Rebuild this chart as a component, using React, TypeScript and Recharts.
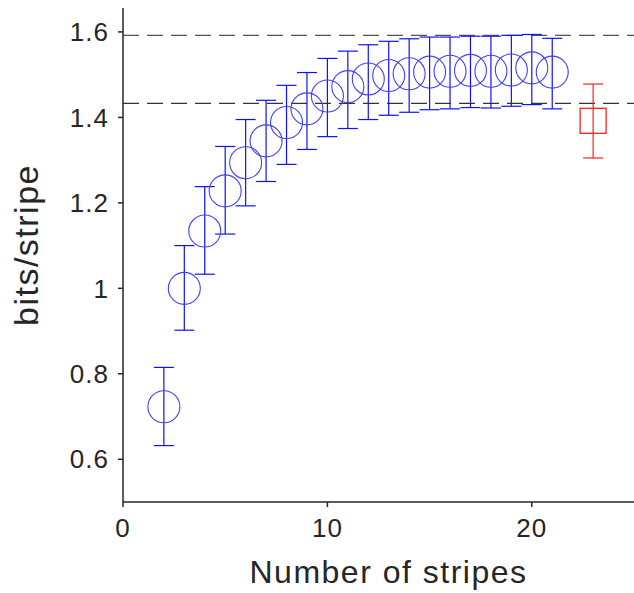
import {
  ComposedChart,
  ErrorBar,
  ReferenceLine,
  Scatter,
  XAxis,
  YAxis,
} from "recharts";

const stripes = [2, 3, 4, 5, 6, 7, 8, 9, 10, 11, 12, 13, 14, 15, 16, 17, 18, 19, 20, 21];
const bits = [
  0.723, 1.0, 1.134, 1.228, 1.294, 1.345, 1.388, 1.42, 1.45, 1.472, 1.49, 1.498,
  1.502, 1.506, 1.508, 1.51, 1.508, 1.511, 1.516, 1.506,
];
const bitsLow = [
  0.632, 0.902, 1.033, 1.127, 1.193, 1.25, 1.29, 1.325, 1.355, 1.374, 1.395, 1.405,
  1.412, 1.418, 1.42, 1.423, 1.422, 1.426, 1.43, 1.42,
];
const bitsHigh = [
  0.815, 1.1, 1.238, 1.332, 1.395, 1.44, 1.475, 1.505, 1.538, 1.555, 1.57, 1.578,
  1.584, 1.588, 1.588, 1.59, 1.59, 1.592, 1.594, 1.585,
];

const extraX = [23];
const extraY = [1.392];
const extraLow = [1.305];
const extraHigh = [1.478];

const upperBound = 1.592;
const lowerBound = 1.433;

const xTicks = [0, 10, 20];
const yTicks = [0.6, 0.8, 1, 1.2, 1.4, 1.6];

const mainData = stripes.map((x, i) => ({
  x,
  y: bits[i],
  err: [bits[i] - bitsLow[i], bitsHigh[i] - bits[i]],
}));

const extraData = extraX.map((x, i) => ({
  x,
  y: extraY[i],
  err: [extraY[i] - extraLow[i], extraHigh[i] - extraY[i]],
}));

const FONT = "'Liberation Sans', Arial, Helvetica, sans-serif";
const AXIS = "#262626";

function Ring(props: any) {
  const { cx, cy } = props;
  return <circle cx={cx} cy={cy} r={16} fill="none" stroke="#4040ff" strokeWidth={1.1} />;
}

function Box(props: any) {
  const { cx, cy } = props;
  return (
    <rect x={cx - 13} y={cy - 12.5} width={26} height={25} fill="none" stroke="#ff2020" strokeWidth={1.3} />
  );
}

function YLabel(props: any) {
  const vb = props.viewBox || {};
  const cy = vb.y + vb.height / 2 - 10;
  return (
    <text
      x={38}
      y={cy}
      transform={`rotate(-90, 38, ${cy})`}
      textAnchor="middle"
      fontSize={34}
      fill={AXIS}
      fontFamily={FONT}
      style={{ letterSpacing: 1.5 }}
    >
      bits/stripe
    </text>
  );
}

function XLabel(props: any) {
  const vb = props.viewBox || {};
  const cx = vb.x + vb.width / 2 + 10;
  return (
    <text
      x={cx}
      y={583}
      textAnchor="middle"
      fontSize={32}
      fill={AXIS}
      fontFamily={FONT}
      style={{ letterSpacing: 1.5 }}
    >
      Number of stripes
    </text>
  );
}

export default function App() {
  return (
    <div style={{ position: "absolute", left: 0, top: 0, background: "#fff" }}>
      <ComposedChart
        width={634}
        height={593}
        margin={{ top: 8, right: 0, left: 0, bottom: 0 }}
        style={{ fontFamily: FONT }}
      >
        <XAxis
          type="number"
          dataKey="x"
          domain={[0, 25]}
          ticks={xTicks}
          allowDataOverflow
          height={91}
          stroke={AXIS}
          strokeWidth={1.5}
          tickSize={5}
          tickMargin={12}
          tick={{ fontSize: 26, fill: AXIS, style: { letterSpacing: 1 } }}
          label={<XLabel />}
        />
        <YAxis
          type="number"
          dataKey="y"
          domain={[0.5, 1.656]}
          ticks={yTicks}
          allowDataOverflow
          width={123}
          stroke={AXIS}
          strokeWidth={1.5}
          tickSize={5}
          tickMargin={9}
          tick={{ fontSize: 26, fill: AXIS, style: { letterSpacing: 1 } }}
          label={<YLabel />}
        />
        <ReferenceLine y={upperBound} stroke="#555" strokeWidth={1.3} strokeDasharray="16 8" />
        <ReferenceLine y={lowerBound} stroke="#333" strokeWidth={1.3} strokeDasharray="16 8" />
        <Scatter data={mainData} shape={<Ring />} isAnimationActive={false}>
          <ErrorBar dataKey="err" direction="y" width={10} stroke="#1010ff" strokeWidth={1.2} />
        </Scatter>
        <Scatter data={extraData} shape={<Box />} isAnimationActive={false}>
          <ErrorBar dataKey="err" direction="y" width={10} stroke="#ff2020" strokeWidth={1.2} />
        </Scatter>
      </ComposedChart>
    </div>
  );
}
